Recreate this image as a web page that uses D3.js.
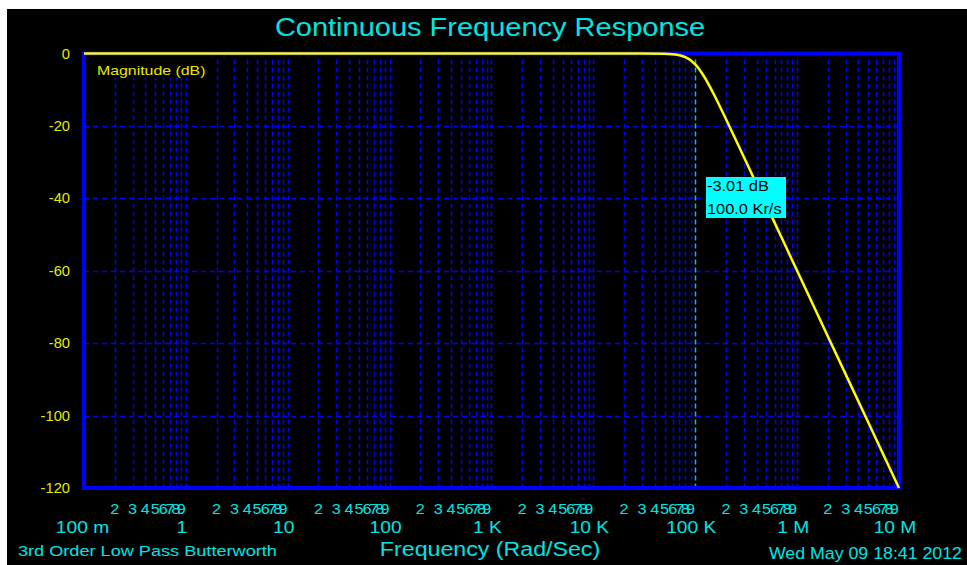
<!DOCTYPE html>
<html>
<head>
<meta charset="utf-8">
<script src="https://cdn.jsdelivr.net/npm/d3@7"></script>
<style>
  html, body { margin: 0; padding: 0; background: #ffffff; }
  svg { display: block; }
  text { font-family: "Liberation Sans", Arial, sans-serif; }
</style>
</head>
<body>
<div id="chart"></div>
<script>
// ---- data ----
const title = "Continuous Frequency Response";
const freqRadSec = [0.1, 1, 10, 100, 1000, 10000, 30000, 50000, 60000, 70000, 80000, 90000, 100000, 120000, 150000, 200000, 300000, 500000, 700000, 1000000, 2000000, 5000000, 10000000];
const magnitudeDb = [0, 0, 0, 0, 0, 0, -0.003, -0.07, -0.2, -0.48, -1.0, -1.85, -3.01, -6.0, -10.9, -18.1, -28.6, -41.9, -50.7, -60, -78.1, -101.9, -120];
const decadeValues = [0.1, 1, 10, 100, 1000, 10000, 100000, 1000000, 10000000];
const decadeLabels = ["100 m", "1", "10", "100", "1 K", "10 K", "100 K", "1 M", "10 M"];
const minorDigits = [2, 3, 4, 5, 6, 7, 8, 9];
const yTicks = [0, -20, -40, -60, -80, -100, -120];
const markerFreq = 100000;
const markerLines = ["-3.01 dB", "100.0 Kr/s"];

const W = 967, H = 565;
const svg = d3.select("#chart").append("svg").attr("width", W).attr("height", H);

// the reference font is a wide pixel font: stretch text horizontally
const place = (px, py, sx) => `translate(${px},${py}) scale(${sx},1)`;

// background (white margin top/left as in reference)
svg.append("rect").attr("x", 7).attr("y", 9).attr("width", W - 7).attr("height", H - 9).attr("fill", "#000");

const x = d3.scaleLog().domain([0.1, 1e7]).range([84, 899]);
const y = d3.scaleLinear().domain([0, -120]).range([53.5, 488]);

const gridBlue = "#0000ff";
const cyan = "#00e4e4";
const yellow = "#e8e800";

// vertical grid: 2..10 in each decade
const vGrid = [];
decadeValues.slice(0, -1).forEach(d => {
  for (let k = 2; k <= 10; k++) vGrid.push(d * k);
});
svg.append("g").selectAll("line").data(vGrid.filter(v => Math.abs(v - markerFreq) > 1))
  .join("line")
  .attr("x1", d => Math.round(x(d)) + 0.5).attr("x2", d => Math.round(x(d)) + 0.5)
  .attr("y1", y(0) + 6).attr("y2", y(-120) - 2)
  .attr("stroke", gridBlue).attr("stroke-width", 1.5)
  .attr("stroke-dasharray", "5,3");

// horizontal grid
svg.append("g").selectAll("line").data(yTicks.filter(v => v !== 0 && v !== -120))
  .join("line")
  .attr("x1", x(0.1)).attr("x2", x(1e7))
  .attr("y1", d => Math.round(y(d)) + 0.5).attr("y2", d => Math.round(y(d)) + 0.5)
  .attr("stroke", gridBlue).attr("stroke-width", 1.5)
  .attr("stroke-dasharray", "5,4");

// marker (cyan dashed) line at 100 K
svg.append("line")
  .attr("x1", Math.round(x(markerFreq)) + 0.5).attr("x2", Math.round(x(markerFreq)) + 0.5)
  .attr("y1", y(0) + 6).attr("y2", y(-120) - 2)
  .attr("stroke", "#00c8c8").attr("stroke-width", 1.5)
  .attr("stroke-dasharray", "5,3");

// label "Magnitude (dB)" with black background
svg.append("rect").attr("x", 92).attr("y", 57).attr("width", 117).attr("height", 21).attr("fill", "#000");
svg.append("text").attr("transform", place(97, 75, 1.22)).attr("fill", yellow)
  .attr("font-size", 13).text("Magnitude (dB)");

// plot frame
svg.append("rect")
  .attr("x", x(0.1)).attr("y", y(0))
  .attr("width", x(1e7) - x(0.1)).attr("height", y(-120) - y(0))
  .attr("fill", "none").attr("stroke", "#0000ff").attr("stroke-width", 4);

// curve
const pts = freqRadSec.map((f, i) => [x(f), y(magnitudeDb[i])]);
svg.append("path")
  .attr("d", d3.line().curve(d3.curveMonotoneX)(pts))
  .attr("fill", "none").attr("stroke", "#ffff00").attr("stroke-width", 2.5);

// marker annotation box
const bx = 706, by = 177;
svg.append("rect").attr("x", bx).attr("y", by).attr("width", 80).attr("height", 41).attr("fill", "#00ffff");
svg.append("text").attr("transform", place(bx + 1, by + 14, 1.17)).attr("fill", "#000").attr("font-size", 14).text(markerLines[0]);
svg.append("text").attr("transform", place(bx + 1, by + 37, 1.17)).attr("fill", "#000").attr("font-size", 14).text(markerLines[1]);

// y tick labels
svg.append("g").selectAll("text").data(yTicks).join("text")
  .attr("transform", d => place(70, y(d) + 5, 1.05))
  .attr("text-anchor", "end").attr("fill", yellow).attr("font-size", 14)
  .text(d => d);

// x minor digit labels
const minorPts = [];
decadeValues.slice(0, -1).forEach(d => minorDigits.forEach(k => minorPts.push({ v: d * k, t: k })));
svg.append("g").selectAll("text").data(minorPts).join("text")
  .attr("transform", d => place(x(d.v), 514, 1.08))
  .attr("text-anchor", "middle").attr("fill", cyan).attr("font-size", 15)
  .text(d => d.t);

// x decade labels
svg.append("g").selectAll("text").data(decadeValues).join("text")
  .attr("transform", (d, i) => place(x(d) - (i === 0 ? 1.5 : 4), 533, 1.2))
  .attr("text-anchor", "middle").attr("fill", cyan).attr("font-size", 16)
  .text((d, i) => decadeLabels[i]);

// title
svg.append("text").attr("transform", place(490, 36, 1.16)).attr("text-anchor", "middle")
  .attr("fill", cyan).attr("font-size", 25).text(title);

// bottom texts
svg.append("text").attr("transform", place(18, 556, 1.21)).attr("fill", cyan).attr("font-size", 15)
  .text("3rd Order Low Pass Butterworth");
svg.append("text").attr("transform", place(490, 556, 1.16)).attr("text-anchor", "middle").attr("fill", cyan).attr("font-size", 20)
  .text("Frequency (Rad/Sec)");
svg.append("text").attr("transform", place(962, 559, 1.11)).attr("text-anchor", "end").attr("fill", cyan).attr("font-size", 16)
  .text("Wed May 09 18:41 2012");
</script>
</body>
</html>
